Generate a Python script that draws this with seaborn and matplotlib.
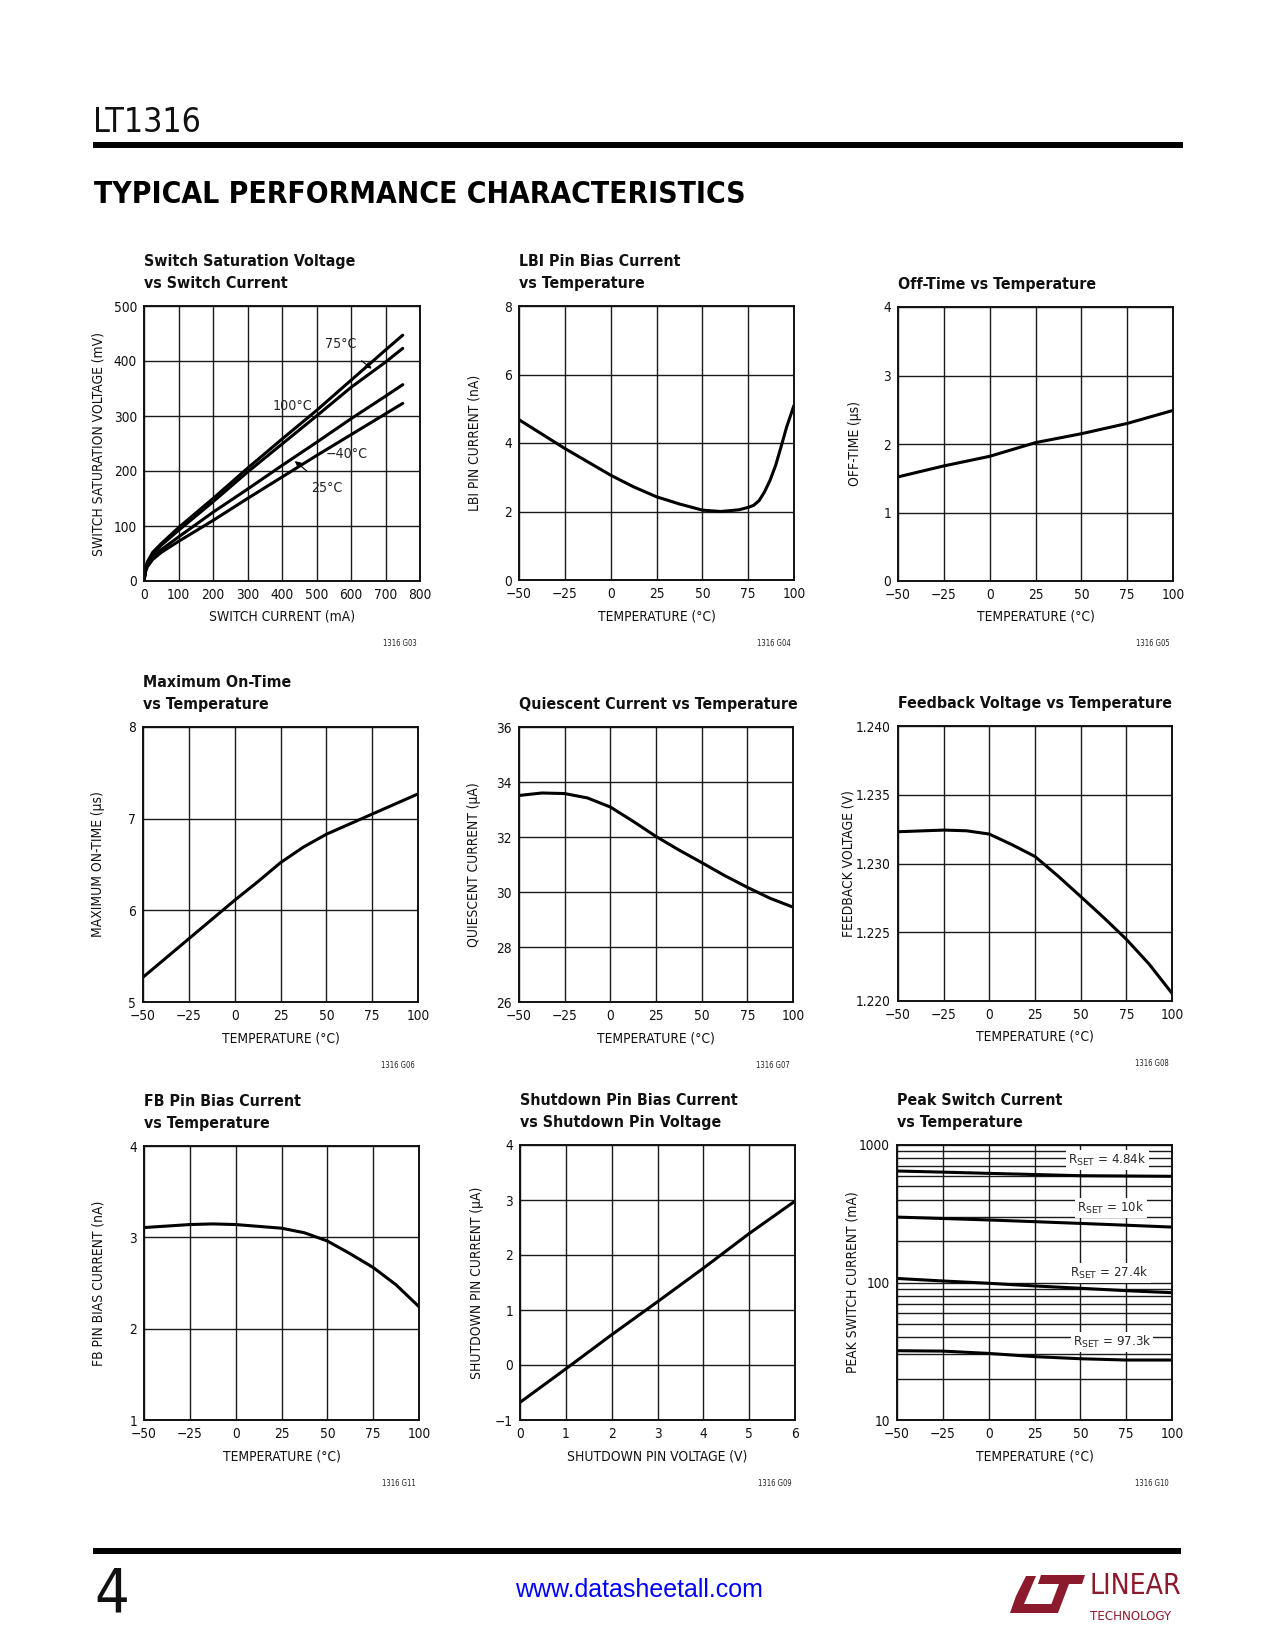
import os
import numpy as np
import pandas as pd
import matplotlib
matplotlib.use("Agg")
import matplotlib.pyplot as plt
import seaborn as sns
from matplotlib import font_manager as fm
from matplotlib.font_manager import FontProperties
from matplotlib.patches import Rectangle, Polygon
from matplotlib.ticker import FixedLocator, NullFormatter

sns.set_theme(style="white")
plt.rcParams['font.family'] = ['Liberation Sans', 'DejaVu Sans']
plt.rcParams['axes.unicode_minus'] = True

# ---------------- data ----------------
# 1. Switch saturation voltage vs switch current
sat_current = [0, 5, 10, 25, 50, 100, 200, 300, 400, 500, 600, 700, 750]
sat_100C = [0, 25, 35, 52, 68, 97, 150, 205, 258, 310, 365, 420, 447]
sat_75C = [0, 23, 33, 49, 65, 92, 144, 198, 249, 300, 352, 398, 423]
sat_25C = [0, 20, 29, 43, 57, 80, 125, 167, 210, 252, 295, 336, 357]
sat_m40C = [0, 18, 26, 39, 52, 72, 110, 150, 189, 228, 266, 304, 323]

# 2. LBI pin bias current vs temperature
lbi_temp = [-50, -25, -12.5, 0, 12.5, 25, 37.5, 50, 60, 70, 75, 78, 81, 84, 87, 90, 93, 96, 100]
lbi_current = [4.68, 3.84, 3.45, 3.06, 2.72, 2.43, 2.22, 2.04, 2.00, 2.05, 2.12, 2.18, 2.32,
               2.58, 2.92, 3.35, 3.90, 4.47, 5.10]

# 3. Off-time vs temperature
off_temp = [-50, -25, 0, 25, 50, 75, 100]
off_time = [1.52, 1.68, 1.82, 2.02, 2.15, 2.30, 2.49]

# 4. Maximum on-time vs temperature
on_temp = [-50, -25, 0, 12.5, 25, 37.5, 50, 75, 100]
on_time = [5.27, 5.69, 6.11, 6.31, 6.52, 6.69, 6.83, 7.05, 7.27]

# 5. Quiescent current vs temperature
q_temp = [-50, -37.5, -25, -12.5, 0, 12.5, 25, 37.5, 50, 62.5, 75, 87.5, 100]
q_current = [33.51, 33.60, 33.58, 33.42, 33.09, 32.57, 32.02, 31.53, 31.07, 30.60, 30.17,
             29.77, 29.45]

# 6. Feedback voltage vs temperature
fb_temp = [-50, -25, -12.5, 0, 12.5, 25, 37.5, 50, 62.5, 75, 87.5, 100]
fb_voltage = [1.23231, 1.23243, 1.23238, 1.23214, 1.23136, 1.23051, 1.22910, 1.22760,
              1.22608, 1.22449, 1.22268, 1.22056]

# 7. FB pin bias current vs temperature
fbb_temp = [-50, -25, -12.5, 0, 25, 37.5, 50, 62.5, 75, 87.5, 100]
fbb_current = [3.107, 3.14, 3.147, 3.14, 3.10, 3.05, 2.96, 2.82, 2.67, 2.48, 2.24]

# 8. Shutdown pin bias current vs shutdown pin voltage
sd_voltage = [0, 1, 2, 3, 4, 5, 6]
sd_current = [-0.68, -0.07, 0.55, 1.15, 1.76, 2.39, 2.98]

# 9. Peak switch current vs temperature
pk_temp = [-50, -25, 0, 25, 50, 75, 100]
pk_4k84 = [647, 635, 622, 610, 598, 595, 592]
pk_10k = [299, 292, 285, 277, 269, 261, 253]
pk_27k4 = [107, 102.6, 98.7, 94.4, 90.8, 87.2, 84.3]
pk_97k3 = [31.9, 31.7, 30.5, 28.9, 27.9, 27.3, 27.3]
rset_labels = ['4.84k', '10k', '27.4k', '97.3k']

temp_ticks = [-50, -25, 0, 25, 50, 75, 100]

# ---------------- fonts ----------------
_files = sorted({f.fname for f in fm.fontManager.ttflist})


def _pick(cands):
    for c in cands:
        for fn in _files:
            if os.path.basename(fn).lower().startswith(c.lower()):
                return fn
    return None


REG = _pick(['LiberationSansNarrow-Regular', 'DejaVuSansCondensed.', 'RobotoCondensed-Regular',
             'Roboto_Condensed-Regular', 'NotoSans-Condensed.', 'OpenSans-CondensedRegular',
             'OpenSans_Condensed-Regular', 'NotoSans-SemiCondensed.'])
BOLD = _pick(['LiberationSansNarrow-Bold.', 'DejaVuSansCondensed-Bold.', 'RobotoCondensed-Bold.',
              'Roboto_Condensed-Bold.', 'NotoSans-CondensedBold.', 'OpenSans-CondensedBold',
              'OpenSans_Condensed-Bold.', 'NotoSans-SemiCondensedBold.'])
BLACK = _pick(['NotoSans-CondensedBlack.', 'NotoSans-ExtraCondensedBlack.',
               'RobotoCondensed-Black.', 'NotoSans-CondensedExtraBold.']) or BOLD


def fp(size, kind='reg'):
    fname = {'reg': REG, 'bold': BOLD, 'black': BLACK}[kind]
    if fname:
        return FontProperties(fname=fname, size=size)
    weight = {'reg': 'normal', 'bold': 'bold', 'black': 'heavy'}[kind]
    return FontProperties(family=['Roboto', 'Liberation Sans', 'DejaVu Sans'], size=size,
                          weight=weight)


if REG:
    plt.rcParams['mathtext.fontset'] = 'custom'
    plt.rcParams['mathtext.rm'] = FontProperties(fname=REG).get_name()

# ---------------- figure ----------------
W, H = 1275, 1650
fig = plt.figure(figsize=(W / 100, H / 100), dpi=100)
fig.patch.set_facecolor('white')
RENDERER = fig.canvas.get_renderer()


def measure(s, prop):
    t = fig.text(0, 0, s, fontproperties=prop)
    w = t.get_window_extent(RENDERER).width
    t.remove()
    return w


def fit(s, nominal, target, kind='reg'):
    w = measure(s, fp(nominal, kind))
    return min(nominal, nominal * target / w)


TITLE_FS = fit('Quiescent Current vs Temperature', 14.5, 277, 'bold')
AXLAB_FS = fit('SWITCH SATURATION VOLTAGE (mV)', 10.5, 224)
TICK_FS = min(fit('100', 11.5, 23.5), fit('\u221250', 11.5, 26))
ANN_FS = fit('75\u00b0C', 11, 31)
ID_FS = fit('1316 G03', 6, 34)


def px_axes(x, top, w, h):
    return fig.add_axes([x / W, 1 - (top + h) / H, w / W, h / H])


def fmt_tick(t, nd=None):
    s = f"{t:.{nd}f}" if nd is not None else f"{t:g}"
    return s.replace('-', '\u2212')


def style(ax, w, h, xlim, xticks, ylim, yticks, xlabel, ylabel, title, fig_id,
          ylab_off=-46, ynd=None, log=False):
    ax.set_facecolor('white')
    if log:
        ax.set_yscale('log')
    ax.set_xlim(*xlim)
    ax.set_ylim(*ylim)
    ax.set_xticks(xticks)
    ax.set_xticklabels([fmt_tick(t) for t in xticks])
    ax.set_yticks(yticks)
    ax.set_yticklabels([fmt_tick(t, ynd) for t in yticks])
    if log:
        minors = [v * d for d in (10, 100) for v in range(2, 10)]
        ax.yaxis.set_minor_locator(FixedLocator(minors))
        ax.yaxis.set_minor_formatter(NullFormatter())
        ax.grid(True, which='minor', axis='y', color='#1a1a1a', lw=1.0)
    ax.grid(True, which='major', color='#1a1a1a', lw=1.0)
    for lbl in ax.get_xticklabels() + ax.get_yticklabels():
        lbl.set_fontproperties(fp(TICK_FS))
        lbl.set_color('#111111')
    for s in ax.spines.values():
        s.set_visible(True)
        s.set_color('#111111')
        s.set_linewidth(1.4)
    ax.set_axisbelow(True)
    ax.tick_params(which='both', length=0, pad=5)
    ax.set_xlabel(xlabel, fontproperties=fp(AXLAB_FS), color='#111111')
    ax.set_ylabel(ylabel, fontproperties=fp(AXLAB_FS), color='#111111')
    ax.xaxis.label.set_verticalalignment('center')
    ax.yaxis.label.set_verticalalignment('center')
    ax.xaxis.set_label_coords(0.5, -36 / h)
    ax.yaxis.set_label_coords(ylab_off / w, 0.5)
    lines = title.split('\n')
    for i, ln in enumerate(lines):
        off = 18 + 22.3 * (len(lines) - 1 - i)
        ax.text(0, 1 + off / h, ln, transform=ax.transAxes, ha='left', va='baseline',
                fontproperties=fp(TITLE_FS, 'bold'), color='#111111')
    ax.text(1 - 3 / w, -63 / h, fig_id, transform=ax.transAxes, ha='right', va='center',
            fontproperties=fp(ID_FS), color='#222222')


LW = 2.2


def curve(ax, x, y):
    sns.lineplot(x=x, y=y, ax=ax, color='black', lw=LW, estimator=None, sort=False,
                 legend=False)


# ---- chart 1 ----
w, h = 276, 275
ax1 = px_axes(144, 306, w, h)
for series in (sat_100C, sat_75C, sat_25C, sat_m40C):
    curve(ax1, sat_current, series)
style(ax1, w, h, (0, 800), list(range(0, 801, 100)), (0, 500), list(range(0, 501, 100)),
      'SWITCH CURRENT (mA)', 'SWITCH SATURATION VOLTAGE (mV)',
      'Switch Saturation Voltage\nvs Switch Current', '1316 G03', ylab_off=-46)
ax1.text(430, 318, '100\u00b0C', fontproperties=fp(ANN_FS), ha='center', va='center')
ax1.text(587, 231, '\u221240\u00b0C', fontproperties=fp(ANN_FS), ha='center', va='center')
arrow = dict(arrowstyle='-|>', color='black', lw=0.8, mutation_scale=9, shrinkA=7, shrinkB=0)
ax1.annotate('75\u00b0C', xy=(660, 386), xytext=(570, 430), fontproperties=fp(ANN_FS),
             ha='center', va='center', arrowprops=arrow)
ax1.annotate('25\u00b0C', xy=(437, 218), xytext=(530, 170), fontproperties=fp(ANN_FS),
             ha='center', va='center', arrowprops=arrow)

# ---- chart 2 ----
w, h = 275, 274
ax2 = px_axes(519, 306, w, h)
curve(ax2, lbi_temp, lbi_current)
style(ax2, w, h, (-50, 100), temp_ticks, (0, 8), [0, 2, 4, 6, 8],
      'TEMPERATURE (\u00b0C)', 'LBI PIN CURRENT (nA)',
      'LBI Pin Bias Current\nvs Temperature', '1316 G04', ylab_off=-44)

# ---- chart 3 ----
w, h = 275, 274
ax3 = px_axes(898, 307, w, h)
curve(ax3, off_temp, off_time)
style(ax3, w, h, (-50, 100), temp_ticks, (0, 4), [0, 1, 2, 3, 4],
      'TEMPERATURE (\u00b0C)', 'OFF-TIME (\u00b5s)',
      'Off-Time vs Temperature', '1316 G05', ylab_off=-43)

# ---- chart 4 ----
w, h = 275, 275
ax4 = px_axes(143, 727, w, h)
curve(ax4, on_temp, on_time)
style(ax4, w, h, (-50, 100), temp_ticks, (5, 8), [5, 6, 7, 8],
      'TEMPERATURE (\u00b0C)', 'MAXIMUM ON-TIME (\u00b5s)',
      'Maximum On-Time\nvs Temperature', '1316 G06', ylab_off=-45)

# ---- chart 5 ----
w, h = 274, 275
ax5 = px_axes(519, 727, w, h)
curve(ax5, q_temp, q_current)
style(ax5, w, h, (-50, 100), temp_ticks, (26, 36), [26, 28, 30, 32, 34, 36],
      'TEMPERATURE (\u00b0C)', 'QUIESCENT CURRENT (\u00b5A)',
      'Quiescent Current vs Temperature', '1316 G07', ylab_off=-45)

# ---- chart 6 ----
w, h = 274, 275
ax6 = px_axes(898, 726, w, h)
curve(ax6, fb_temp, fb_voltage)
style(ax6, w, h, (-50, 100), temp_ticks, (1.220, 1.240), [1.220, 1.225, 1.230, 1.235, 1.240],
      'TEMPERATURE (\u00b0C)', 'FEEDBACK VOLTAGE (V)',
      'Feedback Voltage vs Temperature', '1316 G08', ylab_off=-50, ynd=3)

# ---- chart 7 ----
w, h = 275, 274
ax7 = px_axes(144, 1146, w, h)
curve(ax7, fbb_temp, fbb_current)
style(ax7, w, h, (-50, 100), temp_ticks, (1, 4), [1, 2, 3, 4],
      'TEMPERATURE (\u00b0C)', 'FB PIN BIAS CURRENT (nA)',
      'FB Pin Bias Current\nvs Temperature', '1316 G11', ylab_off=-46)

# ---- chart 8 ----
w, h = 275, 275
ax8 = px_axes(520, 1145, w, h)
curve(ax8, sd_voltage, sd_current)
style(ax8, w, h, (0, 6), [0, 1, 2, 3, 4, 5, 6], (-1, 4), [-1, 0, 1, 2, 3, 4],
      'SHUTDOWN PIN VOLTAGE (V)', 'SHUTDOWN PIN CURRENT (\u00b5A)',
      'Shutdown Pin Bias Current\nvs Shutdown Pin Voltage', '1316 G09', ylab_off=-43)

# ---- chart 9 ----
w, h = 275, 275
ax9 = px_axes(897, 1145, w, h)
for series in (pk_4k84, pk_10k, pk_27k4, pk_97k3):
    curve(ax9, pk_temp, series)
style(ax9, w, h, (-50, 100), temp_ticks, (10, 1000), [10, 100, 1000],
      'TEMPERATURE (\u00b0C)', 'PEAK SWITCH CURRENT (mA)',
      'Peak Switch Current\nvs Temperature', '1316 G10', ylab_off=-44, log=True)
RSET_FS = fit(r'R$_{\mathrm{SET}}$ = 4.84k', 12.5, 78)
label_pos = [(64.8, 778), (66.7, 348), (65.9, 117), (67.3, 36.9)]
for (lx, ly), lab in zip(label_pos, rset_labels):
    ax9.text(lx, ly, r'R$_{\mathrm{SET}}$ = ' + lab, fontproperties=fp(RSET_FS),
             ha='center', va='center', bbox=dict(facecolor='white', edgecolor='none', pad=1.5))

# ---------------- page decoration ----------------
def fx(x):
    return x / W


def fy(y):
    return 1 - y / H


fig.text(fx(93), fy(131.5), 'LT1316', fontproperties=fp(fit('LT1316', 29, 108)),
         ha='left', va='baseline', color='#111111')
fig.add_artist(Rectangle((fx(93), fy(148)), (1183 - 93) / W, 6 / H, transform=fig.transFigure,
                         facecolor='black', edgecolor='none'))
main_title = 'TYPICAL PERFORMANCE CHARACTERISTICS'
fig.text(fx(94), fy(203), main_title,
         fontproperties=fp(fit(main_title, 30, 650, 'black'), 'black'),
         ha='left', va='baseline', color='black')

fig.add_artist(Rectangle((fx(93), fy(1554)), (1181 - 93) / W, 6 / H, transform=fig.transFigure,
                         facecolor='black', edgecolor='none'))
fig.text(fx(94), fy(1612), '4', fontproperties=fp(44), ha='left', va='baseline',
         color='#111111')
fig.text(fx(639), fy(1597), 'www.datasheetall.com', fontsize=18, ha='center', va='baseline',
         color='#0000ff', family=['Liberation Sans', 'DejaVu Sans'])

LOGO = '#8b1a2c'
l_shape = [(1010, 1613), (1049, 1613), (1052, 1604), (1024, 1604), (1036, 1576), (1026, 1576),
           (1016, 1596)]
t_shape = [(1041, 1575), (1085, 1575), (1082, 1584), (1069, 1584), (1058, 1613), (1048, 1613),
           (1059, 1584), (1038, 1584)]
for shp in (l_shape, t_shape):
    fig.add_artist(Polygon([(fx(a), fy(b)) for a, b in shp], closed=True,
                           transform=fig.transFigure, facecolor=LOGO, edgecolor='none'))
fig.text(fx(1089), fy(1594), 'LINEAR', fontproperties=fp(fit('LINEAR', 21, 92)),
         ha='left', va='baseline', color=LOGO)
fig.text(fx(1090), fy(1620), 'TECHNOLOGY', fontproperties=fp(fit('TECHNOLOGY', 9.5, 90)),
         ha='left', va='baseline', color=LOGO)

fig.savefig('out.png', dpi=100, facecolor='white')
